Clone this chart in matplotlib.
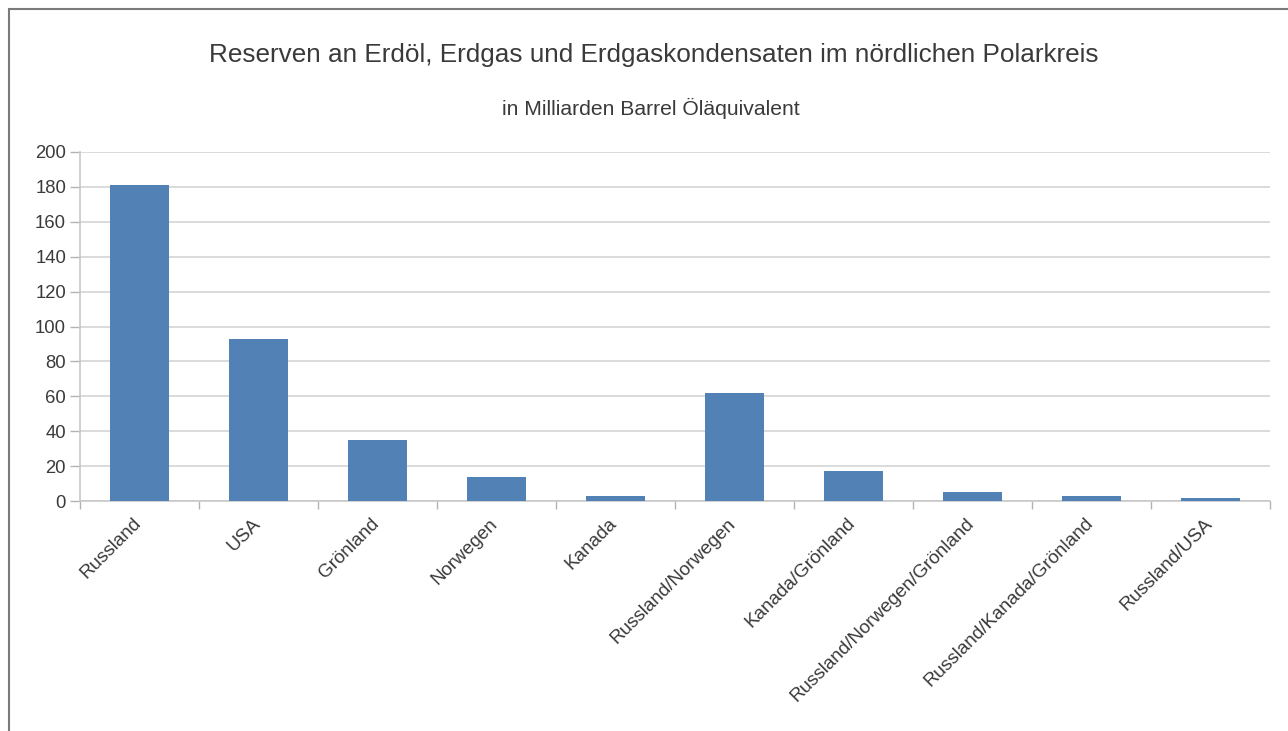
import matplotlib.pyplot as plt
from matplotlib.patches import Rectangle
from matplotlib.transforms import ScaledTranslation

plt.rcParams['font.family'] = ['Liberation Sans', 'DejaVu Sans']

# Reserven in Milliarden Barrel Öläquivalent
regionen = ['Russland', 'USA', 'Grönland', 'Norwegen', 'Kanada',
            'Russland/Norwegen', 'Kanada/Grönland', 'Russland/Norwegen/Grönland',
            'Russland/Kanada/Grönland', 'Russland/USA']
reserven = [181, 93, 35, 14, 3, 62, 17, 5, 3, 2]
y_ticks = [0, 20, 40, 60, 80, 100, 120, 140, 160, 180, 200]

bar_color = '#5281b5'
grid_color = '#d4d4d4'
text_color = '#3a3a3a'

fig = plt.figure(figsize=(12.88, 7.31), dpi=100)
ax = fig.add_axes([80 / 1288, 1 - 501 / 731, 1190 / 1288, 349 / 731])

x = list(range(len(regionen)))
ax.bar(x, reserven, width=0.49, color=bar_color, zorder=3)

ax.set_xlim(-0.5, len(regionen) - 0.5)
ax.set_ylim(0, 200)
ax.set_yticks(y_ticks)
ax.set_yticklabels([str(v) for v in y_ticks], fontsize=13.3, color=text_color)
ax.yaxis.grid(True, color=grid_color, linewidth=1.2, zorder=0)

# category ticks sit between the bars
ax.set_xticks([i - 0.5 for i in range(len(regionen) + 1)], minor=False)
ax.set_xticklabels([])
ax.set_xticks(x, minor=True)
ax.set_xticklabels(regionen, minor=True, rotation=45, ha='right',
                   rotation_mode='anchor', fontsize=13.6, color=text_color)
ax.tick_params(axis='x', which='minor', length=0, pad=5)
ax.tick_params(axis='x', which='major', length=6, color='#b3b3b3', width=1)
ax.tick_params(axis='y', length=7, color='#b3b3b3', width=1, pad=3)

# nudge the slanted labels down-left so they end just under the bar centre
shift = ScaledTranslation(-0.07, -0.07, fig.dpi_scale_trans)
for lbl in ax.get_xticklabels(minor=True):
    lbl.set_transform(lbl.get_transform() + shift)

for side in ['top', 'right']:
    ax.spines[side].set_visible(False)
ax.spines['left'].set_color('#c8c8c8')
ax.spines['bottom'].set_color('#c8c8c8')
ax.spines['left'].set_linewidth(1.2)
ax.spines['bottom'].set_linewidth(1.2)

fig.text(654 / 1288, 1 - 55 / 731, 'Reserven an Erdöl, Erdgas und Erdgaskondensaten im nördlichen Polarkreis',
         ha='center', va='center', fontsize=18.8, color=text_color)
fig.text(651 / 1288, 1 - 108 / 731, 'in Milliarden Barrel Öläquivalent',
         ha='center', va='center', fontsize=15.2, color=text_color)

# outer frame of the chart object
fig.patches.append(Rectangle((9 / 1288, -0.05), 1.2, 1 - 9 / 731 + 0.05,
                             transform=fig.transFigure, fill=False,
                             edgecolor='#7a7a7a', linewidth=1.5))

fig.savefig('out.png', dpi=100)
